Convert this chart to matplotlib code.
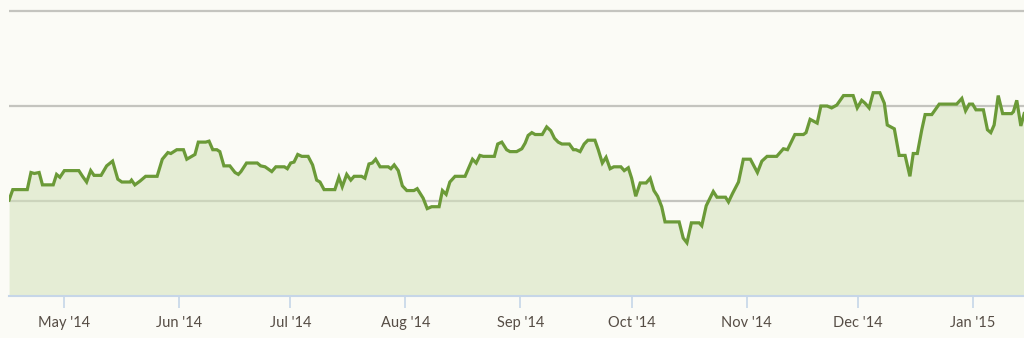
import datetime as dt
import matplotlib
matplotlib.use("Agg")
import matplotlib.pyplot as plt
import matplotlib.dates as mdates

# Days relative to 2014-05-01 and series values (arbitrary units, gridlines at 100/200/300)
day_offsets = [
    -14.8, -13.8, -9.9, -8.9, -8.0, -6.7, -5.8, -2.9, -2.0, -1.1,
    0.1, 4.0, 5.0, 6.1, 7.2, 8.1, 10.0, 11.5, 13.1, 14.5,
    15.6, 17.8, 18.2, 19.1, 20.5, 22.0, 25.1, 26.5, 28.0, 28.8,
    30.4, 32.2, 33.1, 34.0, 35.3, 36.2, 38.2, 39.1, 40.1, 41.2,
    42.0, 43.1, 44.7, 46.1, 47.0, 47.7, 49.2, 52.1, 53.0, 54.2,
    56.0, 57.1, 59.4, 60.2, 61.1, 62.0, 63.0, 64.1, 65.8, 67.0,
    68.1, 69.0, 70.1, 73.0, 74.1, 75.0, 76.2, 77.3, 78.2, 80.2,
    81.1, 82.2, 83.1, 84.0, 85.2, 87.4, 88.1, 89.0, 90.1, 91.2,
    92.4, 94.3, 95.2, 96.8, 97.9, 99.1, 101.1, 102.0, 103.0, 104.0,
    105.4, 108.1, 109.0, 110.1, 111.1, 112.1, 113.0, 116.0, 116.9, 118.0,
    119.3, 120.2, 122.0, 123.4, 124.3, 125.1, 126.1, 127.0, 128.9, 130.1,
    131.2, 132.2, 133.2, 134.2, 136.2, 137.3, 138.0, 139.1, 140.2, 141.2,
    143.1, 144.0, 145.1, 146.1, 147.2, 148.2, 150.1, 151.0, 152.1, 153.0,
    154.1, 155.3, 156.9, 158.0, 159.0, 160.0, 161.1, 162.0, 165.8, 166.9,
    167.9, 169.1, 171.2, 171.9, 173.1, 175.0, 176.0, 178.3, 179.1, 180.2,
    181.8, 183.1, 185.0, 186.9, 188.1, 189.5, 192.1, 193.9, 195.0, 197.0,
    199.3, 200.0, 201.1, 203.0, 204.0, 205.7, 206.9, 208.3, 210.1, 212.7,
    213.8, 215.0, 215.9, 217.0, 218.1, 219.9, 221.1, 221.9, 223.8, 225.1,
    226.7, 228.0, 228.9, 230.0, 231.2, 232.1, 233.9, 235.9, 240.6, 242.0,
    243.0, 244.0, 244.9, 245.8, 247.8, 248.9, 249.8, 250.7, 251.8, 253.0,
    255.4, 255.9, 256.8, 257.9, 258.8,
]
values = [
    101, 112, 112, 130, 129, 130, 117, 117, 128, 125,
    132, 132, 126, 120, 132, 127, 127, 137, 142, 123,
    120, 120, 122, 117, 121, 126, 126, 144, 151, 150,
    154, 154, 144, 146, 149, 162, 162, 163, 154, 154,
    152, 137, 137, 130, 128, 131, 140, 140, 137, 136,
    131, 136, 136, 134, 140, 141, 149, 147, 147, 138,
    122, 120, 112, 112, 125, 115, 128, 122, 126, 126,
    124, 139, 140, 144, 136, 136, 134, 138, 132, 116,
    111, 111, 113, 103, 92, 94, 94, 111, 107, 120,
    126, 126, 134, 144, 140, 148, 147, 147, 160, 162,
    154, 152, 152, 155, 161, 169, 172, 170, 170, 178,
    174, 166, 162, 160, 160, 154, 154, 152, 160, 164,
    164, 154, 140, 146, 134, 136, 136, 132, 135, 124,
    105, 119, 119, 124, 111, 105, 94, 78, 78, 61,
    56, 77, 77, 74, 95, 110, 104, 104, 99, 108,
    120, 144, 144, 130, 142, 147, 147, 155, 154, 170,
    170, 172, 186, 182, 200, 200, 198, 201, 211, 211,
    198, 206, 203, 198, 214, 214, 203, 180, 176, 148,
    148, 126, 150, 150, 175, 191, 191, 202, 202, 208,
    195, 202, 202, 196, 196, 175, 172, 180, 211, 192,
    192, 194, 206, 179, 192,
]
tick_labels = ["May '14", "Jun '14", "Jul '14", "Aug '14", "Sep '14",
               "Oct '14", "Nov '14", "Dec '14", "Jan '15"]
tick_dates = [dt.datetime(2014, m, 1) for m in range(5, 13)] + [dt.datetime(2015, 1, 1)]
gridline_values = [100, 200, 300]

base = dt.datetime(2014, 5, 1)
dates = [base + dt.timedelta(days=d) for d in day_offsets]

plt.rcParams['font.family'] = ['Lato', 'DejaVu Sans']

bg = '#fbfbf6'
fig = plt.figure(figsize=(10.24, 3.38), dpi=100, facecolor=bg)
ax = fig.add_axes([9 / 1024, 42 / 338, 1015 / 1024, 296 / 338])
ax.set_facecolor(bg)

for g in gridline_values:
    ax.axhline(g, color='#c4c4bf', lw=1.6, zorder=1)

ax.fill_between(dates, values, 0, color='#d3e3bb', alpha=0.55, lw=0, zorder=2)
ax.plot(dates, values, color='#6b9a38', lw=2.3, zorder=3, solid_joinstyle='miter')

ax.set_xlim(base + dt.timedelta(days=-14.82), base + dt.timedelta(days=258.75))
ax.set_ylim(0, 311.6)

for s in ['top', 'right', 'left']:
    ax.spines[s].set_visible(False)
ax.spines['bottom'].set_color('#c6d6e8')
ax.spines['bottom'].set_linewidth(1.5)
ax.spines['bottom'].set_zorder(4)

ax.set_yticks([])
ax.set_xticks(mdates.date2num(tick_dates))
ax.set_xticklabels(tick_labels)
ax.tick_params(axis='x', length=8.5, width=1.2, color='#c6d6e8', pad=6,
               labelsize=10.5, labelcolor='#564d45')

fig.savefig('out.png', dpi=100, facecolor=bg)
